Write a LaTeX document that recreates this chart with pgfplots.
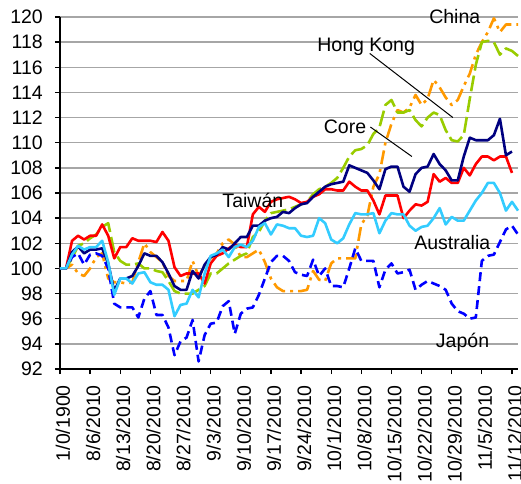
\documentclass[border=0pt]{standalone}
\usepackage{fontspec}
\setmainfont{Liberation Sans}
\usepackage{pgfplots}
\usepackage{pgfplotstable}
\pgfplotsset{compat=1.18}

\definecolor{cChina}{HTML}{FF9900}
\definecolor{cHK}{HTML}{99CC00}
\definecolor{cCore}{HTML}{000080}
\definecolor{cTw}{HTML}{FF0000}
\definecolor{cAus}{HTML}{33CCFF}
\definecolor{cJp}{HTML}{0000FF}
\definecolor{gridgray}{HTML}{A6A6A6}

\newcommand{\lf}{\fontsize{19.5}{22}\selectfont}

% index, then one column per market (base = 100)
\pgfplotstableread{
i china hk core taiwan aus japan
0 100 100 100 100 100 100
1 100 100 100 100 100 100
2 100.3 100.8 101.3 102.2 101.1 100.9
3 99.6 101.8 101.75 102.6 101.8 101.2
4 99.4 102.0 101.2 102.3 101.5 100.3
5 100.0 102.4 101.5 102.6 101.7 101.1
6 100.9 102.7 101.5 102.6 101.7 101.2
7 101.2 103.3 101.6 103.5 102.2 101.0
8 99.2 103.6 100.4 102.6 100.5 100.0
9 98.9 101.3 98.2 100.8 97.9 97.2
10 98.9 100.6 99.2 101.7 99.2 96.9
11 98.8 100.3 99.2 101.7 99.2 96.9
12 98.9 100.3 99.4 102.4 98.8 96.9
13 100.5 100.4 100.2 102.2 99.6 96.1
14 102.0 100.0 101.2 102.2 99.7 97.6
15 101.3 100.0 101.0 102.2 98.9 98.2
16 100.9 99.8 101.0 102.1 98.7 96.3
17 100.5 99.7 100.5 102.9 98.7 96.3
18 99.4 99.0 99.6 102.2 98.3 95.3
19 99.0 98.2 98.6 100.1 96.2 93.1
20 99.0 98.0 98.3 99.4 97.1 94.2
21 99.0 98.0 98.3 99.6 97.2 94.5
22 100.6 98.0 99.8 99.6 98.3 95.9
23 99.4 98.3 99.2 99.6 97.7 92.6
24 100.2 98.6 100.3 98.8 99.6 94.7
25 100.8 99.6 100.9 100.4 101.0 95.6
26 101.2 99.6 101.1 101.0 101.2 95.7
27 102.0 100.0 101.7 101.2 101.5 97.0
28 102.3 100.4 101.5 101.6 100.9 97.4
29 101.9 100.7 102.0 101.9 101.7 94.8
30 100.9 101.0 102.5 101.7 101.9 96.4
31 100.9 101.2 102.5 101.7 101.7 96.8
32 101.2 102.5 103.4 104.3 102.2 96.9
33 101.5 102.9 103.4 104.9 103.3 97.9
34 100.5 103.8 103.8 104.5 103.6 99.2
35 99.2 104.4 104.0 105.3 102.7 100.5
36 98.5 104.5 104.1 105.5 103.5 101.0
37 98.2 104.6 104.5 105.6 103.4 101.0
38 98.2 104.7 104.4 105.7 103.2 100.6
39 98.2 104.9 104.8 105.5 103.2 99.7
40 98.2 105.1 105.1 105.2 102.6 99.5
41 98.3 105.3 105.2 105.3 102.5 99.4
42 99.8 105.9 105.7 105.7 102.6 100.7
43 99.1 106.3 106.1 105.9 104.0 99.4
44 99.0 106.5 106.5 106.3 103.6 100.0
45 100.4 106.8 106.7 106.3 102.3 98.6
46 100.8 107.2 106.8 106.2 102.0 98.6
47 100.8 108.0 106.9 106.2 102.4 98.5
48 100.8 108.9 108.2 106.9 103.5 100.0
49 100.8 109.4 108.0 106.5 104.4 101.6
50 103.5 109.5 107.8 106.2 104.3 100.6
51 104.2 109.8 107.6 106.2 104.3 100.6
52 106.5 110.7 107.0 105.4 104.4 100.6
53 107.5 111.2 106.3 104.3 102.8 98.5
54 110.0 113.0 107.9 105.8 103.8 99.9
55 111.5 113.4 108.1 105.8 104.4 100.4
56 112.6 112.4 108.1 105.8 104.3 99.6
57 112.4 112.4 106.5 104.0 104.3 99.7
58 112.8 112.6 106.1 104.6 103.4 99.9
59 113.8 111.8 107.5 105.1 103.0 98.3
60 113.0 111.3 108.0 105.0 103.3 98.7
61 113.5 112.0 108.1 105.3 103.4 99.0
62 115.0 112.4 109.1 107.5 104.0 98.8
63 114.4 112.2 108.3 106.9 104.8 98.6
64 113.6 111.0 107.8 107.2 103.5 98.3
65 113.0 110.2 107.0 106.8 104.1 97.2
66 113.4 110.1 107.0 106.8 103.8 96.6
67 114.5 110.6 108.9 108.0 103.8 96.4
68 115.5 113.5 110.4 107.4 104.6 96.0
69 117.0 116.2 110.2 108.3 105.4 96.1
70 118.0 118.0 110.2 108.9 106.0 100.6
71 118.8 118.1 110.2 108.9 106.8 101.0
72 119.9 118.0 110.6 108.6 106.8 101.1
73 118.8 117.0 111.9 108.9 106.0 102.1
74 119.4 117.5 109.0 108.9 104.6 103.1
75 119.4 117.3 109.3 107.6 105.3 103.4
76 119.4 116.9 nan nan 104.6 102.7
}\idx

\begin{document}
\begin{tikzpicture}
\useasboundingbox (-60pt,-114pt) rectangle (461pt,369pt);
\begin{axis}[
    scale only axis,
    width=458pt, height=352pt,
    xmin=0, xmax=76, ymin=92, ymax=120,
    clip=false,
    unbounded coords=jump,
    axis x line*=bottom, axis y line*=left,
    axis line style={-, black, line width=2pt},
    ytick={92,94,...,120},
    xtick={0,5,...,75},
    xticklabels={1/0/1900,8/6/2010,8/13/2010,8/20/2010,8/27/2010,9/3/2010,9/10/2010,9/17/2010,9/24/2010,10/1/2010,10/8/2010,10/15/2010,10/22/2010,10/29/2010,11/5/2010,11/12/2010},
    tick align=outside,
    major tick length=5pt,
    tick style={black, line width=1.3pt},
    ymajorgrids,
    grid style={gridgray, line width=1.4pt},
    /pgf/number format/assume math mode=true,
    ticklabel style={font=\lf},
    yticklabel style={anchor=east, inner sep=0pt, xshift=-12pt},
    xticklabel style={xshift=3pt, yshift=-11pt, rotate=90, anchor=east, inner sep=0pt},
    every axis plot/.append style={line width=2.6pt, line join=round, no markers},
]
\addplot[cChina, dash pattern=on 14pt off 5pt on 3pt off 5pt] table[x=i,y=china]{\idx};
\addplot[cHK, dash pattern=on 16pt off 5pt] table[x=i,y=hk]{\idx};
\addplot[cJp, dash pattern=on 9pt off 5pt] table[x=i,y=japan]{\idx};
\addplot[cTw] table[x=i,y=taiwan]{\idx};
\addplot[cCore] table[x=i,y=core]{\idx};
\addplot[cAus] table[x=i,y=aus]{\idx};

\node[font=\lf] at (axis cs:65.5,120) {China};
\node[font=\lf] at (axis cs:50.8,117.6) {Hong Kong};
\node[font=\lf] at (axis cs:47.3,111.25) {Core};
\node[font=\lf] at (axis cs:32.0,105.4) {Taiwán};
\node[font=\lf] at (axis cs:65.1,102.1) {Australia};
\node[font=\lf] at (axis cs:66.8,94.1) {Japón};
\draw[black, line width=1pt] (axis cs:51.4,117.1) -- (axis cs:65.2,112.0);
\draw[black, line width=1pt] (axis cs:51.5,111.25) -- (axis cs:58.4,108.9);
\end{axis}
\end{tikzpicture}
\end{document}
